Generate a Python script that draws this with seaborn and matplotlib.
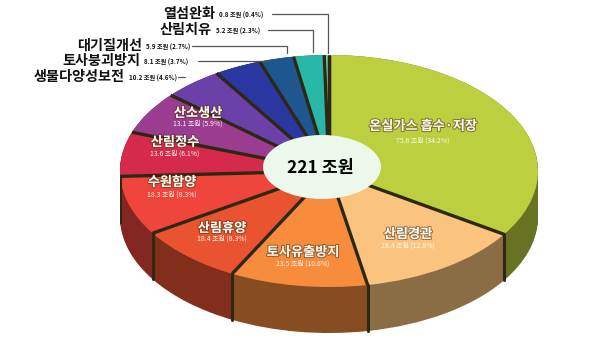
import numpy as np
import matplotlib
matplotlib.use("Agg")
import matplotlib.pyplot as plt
import matplotlib.patheffects as pe
from matplotlib.patches import Ellipse
import seaborn as sns

# ---- data ----
categories = ["온실가스 흡수·저장", "산림경관", "토사유출방지", "산림휴양", "수원함양",
              "산림정수", "산소생산", "생물다양성보전", "토사붕괴방지", "대기질개선",
              "산림치유", "열섬완화"]
values = [75.6, 28.4, 23.5, 18.4, 18.3, 13.6, 13.1, 10.2, 8.1, 5.9, 5.2, 0.8]
percents = [34.2, 12.8, 10.6, 8.3, 8.3, 6.1, 5.9, 4.6, 3.7, 2.7, 2.3, 0.4]
total_label = "221 조원"

colors = ["#bccf3e", "#fbc47e", "#f68c3c", "#ea532f", "#f0453d", "#d52a4b",
          "#9a3c90", "#6b40a8", "#2b37a0", "#1e5690", "#29b8a7", "#6fe0b8"]

sns.set_theme(style="white")
plt.rcParams['font.family'] = ['Noto Sans CJK KR', 'DejaVu Sans']

W, H = 600, 345
fig = plt.figure(figsize=(W / 100, H / 100), dpi=100)
fig.patch.set_facecolor("white")

# pie axes: top face spans x 120..538, y 55..287 px ; depth 46 px
px_left, px_right, px_top, px_face_bottom, depth_px = 120, 538, 55, 287, 46
ry_px = (px_face_bottom - px_top) / 2
depth = depth_px / ry_px
ax = fig.add_axes([px_left / W, (H - (px_face_bottom + depth_px)) / H,
                   (px_right - px_left) / W, (px_face_bottom + depth_px - px_top) / H])


def darker(c, f):
    r, g, b = matplotlib.colors.to_rgb(c)
    return (r * f, g * f, b * f)


side_cols = [darker(c, 0.55) for c in colors]
for d in np.linspace(-depth, 0, 36):
    ax.pie(values, colors=side_cols, startangle=90, counterclock=False,
           center=(0, d), radius=1, frame=True,
           wedgeprops=dict(edgecolor="none", linewidth=0))

# boundary lines on side
sep = "#2e2812"
cum = np.concatenate([[0], np.cumsum(values)]) / np.sum(values)
for c in cum:
    th = np.deg2rad(90 - 360 * c)
    x, y = np.cos(th), np.sin(th)
    if y < 0.05:
        ax.plot([x, x], [y, y - depth], color=sep, lw=2.2, zorder=5)

ax.pie(values, colors=colors, startangle=90, counterclock=False,
       center=(0, 0), radius=1, frame=True,
       wedgeprops=dict(edgecolor="none", linewidth=0))
# radial separators on the top face
for c in cum:
    th = np.deg2rad(90 - 360 * c)
    ax.plot([0, np.cos(th)], [0, np.sin(th)], color=sep, lw=2.4, zorder=6,
            solid_capstyle="butt")

ax.set_xlim(-1, 1)
ax.set_ylim(-1 - depth, 1)
ax.set_aspect("auto")
ax.axis("off")

# overlay axes in pixel coords
ov = fig.add_axes([0, 0, 1, 1])
ov.set_xlim(0, W)
ov.set_ylim(H, 0)
ov.axis("off")
ov.patch.set_alpha(0)

ov.add_patch(Ellipse((322, 167), 118, 64, facecolor="#ecf8ea", edgecolor="none", zorder=3))
ov.text(320, 168, total_label, ha="center", va="center", fontsize=12.5,
        fontweight="bold", color="black", zorder=4)

# inner labels
inner_pos = {0: (423, 126, 141), 1: (408, 234, 246), 2: (303, 252, 264),
             3: (222, 228, 239), 4: (172, 182, 195), 5: (175, 142, 154),
             6: (198, 113, 124)}
shadow = [pe.withStroke(linewidth=1.5, foreground=(0.3, 0.2, 0.1, 0.55))]
for i, (x, y1, y2) in inner_pos.items():
    ov.text(x, y1, categories[i], ha="center", va="center", fontsize=9.5,
            color="#fdf8ec", fontweight="bold", path_effects=shadow, zorder=4)
    ov.text(x, y2, f"{values[i]} 조원 ({percents[i]}%)", ha="center", va="center",
            fontsize=5, color="#fdf8ec", zorder=4)

# outer labels with leader lines
outer = {11: (215, 14, 272, 328, 53), 10: (212, 30, 268, 313, 52),
         9: (142, 46, 192, 287, 53), 8: (140, 61, 198, 270, 61),
         7: (125, 77, 178, 185, 77)}
for i, (xr, y, lx0, lx1, ly1) in outer.items():
    ov.text(xr, y, categories[i], ha="right", va="center", fontsize=10.2,
            fontweight="black", color="#111111", zorder=4)
    ov.text(xr + 4, y + 1, f"{values[i]} 조원 ({percents[i]}%)", ha="left", va="center",
            fontsize=4.5, fontweight="bold", color="#111111", zorder=4)
    ov.plot([lx0, lx1, lx1], [y, y, ly1], color="#555555", lw=0.9, zorder=2)

fig.savefig("out.png", dpi=100, facecolor="white")
